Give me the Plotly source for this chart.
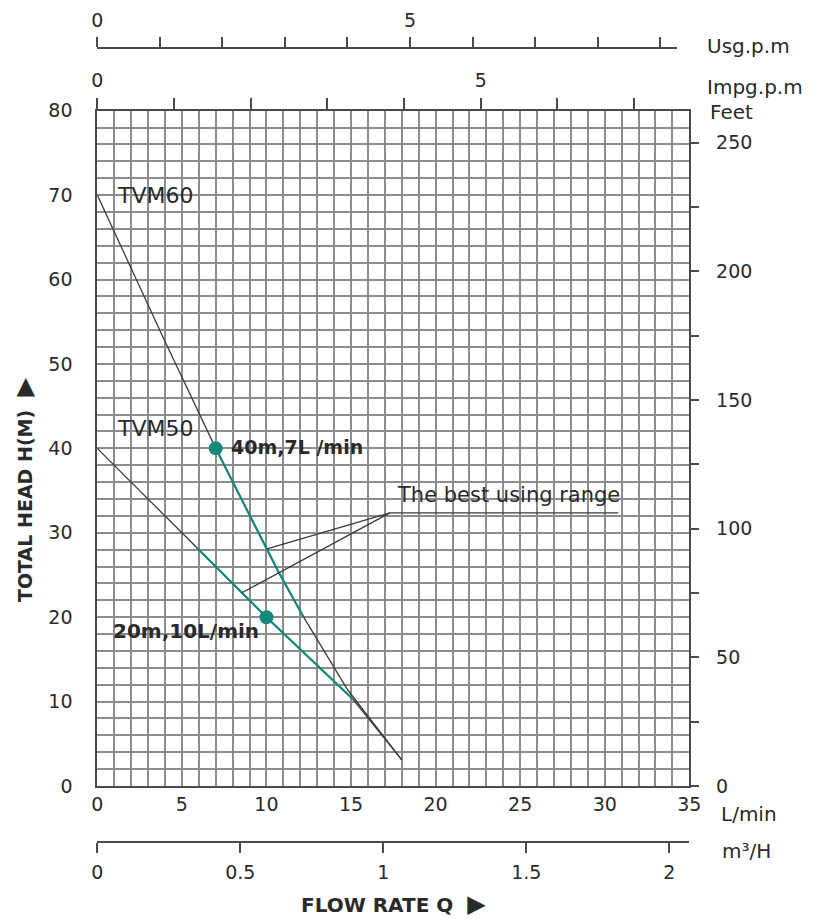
import plotly.graph_objects as go

# ---------------- data ----------------
flow_ticks = [0, 5, 10, 15, 20, 25, 30, 35]          # L/min
head_ticks = [0, 10, 20, 30, 40, 50, 60, 70, 80]     # m
feet_ticks = [0, 25, 50, 75, 100, 125, 150, 175, 200, 225, 250]
feet_labels = ["0", "", "50", "", "100", "", "150", "", "200", "", "250"]
m3h_ticks = [0, 0.5, 1, 1.5, 2]
m3h_labels = ["0", "0.5", "1", "1.5", "2"]
usgpm_ticks = [0, 1, 2, 3, 4, 5, 6, 7, 8, 9]
usgpm_labels = ["0", "", "", "", "", "5", "", "", "", ""]
impgpm_ticks = [0, 1, 2, 3, 4, 5, 6, 7]
impgpm_labels = ["0", "", "", "", "", "5", "", ""]

tvm60_flow = [0, 3.9, 7.0, 10.7, 12.2, 14.8, 18.0]
tvm60_head = [70, 53.1, 40, 25.4, 20.0, 11.4, 3.1]
tvm60_best = slice(2, 5)          # 40 m ... 20 m

tvm50_flow = [0, 5.9, 10.0, 15.1, 18.0]
tvm50_head = [40, 28.2, 20, 10.3, 3.1]
tvm50_best = slice(1, 4)

point_flow = [7, 10]
point_head = [40, 20]
point_text = ["40m,7L /min", "20m,10L/min"]

best_anchor = (17.3, 32.35)
best_end_flow = 30.8
best_targets_flow = [10.03, 8.55]
best_targets_head = [28.1, 22.9]

# ---------------- geometry helpers ----------------
# page body has an 8px margin, so the figure is drawn 8px in from the window corner
OFF = 8
W, H = 818 - OFF, 919 - OFF
def px(x):
    return (x - OFF) / W
def py(y):
    return 1 - (y - OFF) / H

X0, X1 = 97.3, 689.3
Y0, Y1 = 110.7, 786.0
xdom = [px(X0), px(X1)]
ydom = [py(Y1), py(Y0)]

FONT = "DejaVu Sans"
TXT = "#2a2a2a"
GRID = "#8c8c8c"
BORDER = "#4a4a4a"
TEAL = "#14897a"
CURVE = "#3c3c3c"

fig = go.Figure()

# full curves
fig.add_trace(go.Scatter(x=tvm60_flow, y=tvm60_head, mode="lines",
                         line=dict(color=CURVE, width=1.3), hoverinfo="skip"))
fig.add_trace(go.Scatter(x=tvm50_flow, y=tvm50_head, mode="lines",
                         line=dict(color=CURVE, width=1.3), hoverinfo="skip"))
# best using range (teal)
fig.add_trace(go.Scatter(x=tvm60_flow[tvm60_best], y=tvm60_head[tvm60_best], mode="lines",
                         line=dict(color=TEAL, width=2.2), hoverinfo="skip"))
fig.add_trace(go.Scatter(x=tvm50_flow[tvm50_best], y=tvm50_head[tvm50_best], mode="lines",
                         line=dict(color=TEAL, width=2.2), hoverinfo="skip"))
# leader lines + underline of the "best using range" label
lx, ly = [], []
for fx, fy in zip(best_targets_flow, best_targets_head):
    lx += [best_anchor[0], fx, None]
    ly += [best_anchor[1], fy, None]
lx += [best_anchor[0], best_end_flow]
ly += [best_anchor[1], best_anchor[1]]
fig.add_trace(go.Scatter(x=lx, y=ly, mode="lines",
                         line=dict(color="#3a3a3a", width=1.3), hoverinfo="skip"))
# operating points
fig.add_trace(go.Scatter(x=point_flow, y=point_head, mode="markers",
                         marker=dict(color=TEAL, size=14), hoverinfo="skip"))

# dummy traces so that the secondary axes get drawn
inv = dict(mode="markers", marker=dict(opacity=0), hoverinfo="skip", showlegend=False)
fig.add_trace(go.Scatter(x=[0], y=[0], xaxis="x", yaxis="y2", **inv))
fig.add_trace(go.Scatter(x=[0], y=[0], xaxis="x2", yaxis="y", **inv))
fig.add_trace(go.Scatter(x=[0], y=[0], xaxis="x4", yaxis="y", **inv))
fig.add_trace(go.Scatter(x=[0], y=[0], xaxis="x3", yaxis="y3", **inv))

tickfont = dict(family=FONT, size=19, color=TXT)

fig.update_layout(
    width=W, height=H, autosize=False,
    margin=dict(l=0, r=0, t=0, b=0, autoexpand=False),
    paper_bgcolor="white", plot_bgcolor="white",
    showlegend=False,
    xaxis=dict(domain=xdom, anchor="y", range=[0, 35], tickvals=flow_ticks,
               ticks="", ticklabelstandoff=0, tickfont=tickfont, automargin=False,
               showgrid=True, gridcolor=GRID, gridwidth=1.5,
               minor=dict(dtick=1, showgrid=True, gridcolor=GRID, gridwidth=1.5),
               zeroline=False, showline=True, mirror=True,
               linecolor=BORDER, linewidth=2, fixedrange=True),
    yaxis=dict(domain=ydom, anchor="x", range=[0, 80], tickvals=head_ticks,
               ticks="", ticklabelstandoff=19, tickfont=tickfont, automargin=False,
               showgrid=True, gridcolor=GRID, gridwidth=1.5,
               minor=dict(dtick=2, showgrid=True, gridcolor=GRID, gridwidth=1.5),
               zeroline=False, showline=True, mirror=True,
               linecolor=BORDER, linewidth=2, fixedrange=True),
    yaxis2=dict(overlaying="y", anchor="x", side="right", range=[0, 80 * 3.28084],
                tickvals=feet_ticks, ticktext=feet_labels, ticks="outside",
                ticklen=9, tickwidth=1.5, tickcolor=BORDER, ticklabelstandoff=13,
                tickfont=tickfont, showgrid=False, zeroline=False, showline=False,
                automargin=False, fixedrange=True),
    xaxis2=dict(overlaying="x", anchor="free", position=py(842), side="bottom",
                range=[0, 2.07], tickvals=m3h_ticks, ticktext=m3h_labels,
                ticks="outside", ticklen=10, tickwidth=1.5, tickcolor=BORDER,
                ticklabelstandoff=3, tickfont=tickfont, showgrid=False,
                zeroline=False, showline=True, linecolor=BORDER, linewidth=1.5,
                automargin=False, fixedrange=True),
    xaxis4=dict(overlaying="x", anchor="y", side="top", range=[0, 7.72],
                tickvals=impgpm_ticks, ticktext=impgpm_labels, ticks="outside",
                ticklen=12, tickwidth=1.5, tickcolor=BORDER, ticklabelstandoff=3,
                tickfont=tickfont, showgrid=False, zeroline=False, showline=False,
                automargin=False, fixedrange=True),
    xaxis3=dict(domain=[px(X0), px(677)], anchor="free", position=py(48), side="top",
                range=[0, 9.27], tickvals=usgpm_ticks, ticktext=usgpm_labels,
                ticks="outside", ticklen=10, tickwidth=1.5, tickcolor=BORDER,
                ticklabelstandoff=3, tickfont=tickfont, showgrid=False,
                zeroline=False, showline=True, linecolor=BORDER, linewidth=1.5,
                automargin=False, fixedrange=True),
    yaxis3=dict(domain=[py(60), py(40)], anchor="x3", range=[0, 1], visible=False,
                automargin=False, fixedrange=True),
)

# ---------------- text ----------------
def ann(text, x, y, xref="paper", yref="paper", size=20, xanchor="left",
        yanchor="middle", angle=0, bold=False):
    fig.add_annotation(text=("<b>%s</b>" % text) if bold else text, x=x, y=y,
                       xref=xref, yref=yref, showarrow=False, xanchor=xanchor,
                       yanchor=yanchor, textangle=angle,
                       font=dict(family=FONT, size=size, color=TXT))

# unit labels
ann("Usg.p.m", px(705), py(46))
ann("Impg.p.m", px(705), py(87))
ann("Feet", px(708), py(112))
ann("L/min", px(719), py(814))
ann("m³/H", px(720), py(851))

# curve labels (data coordinates)
ann("TVM60", 1.05, 70.0, "x", "y", size=22)
ann("TVM50", 1.05, 42.3, "x", "y", size=22)
ann(point_text[0], 7.8, 40.2, "x", "y", size=19, bold=True)
ann(point_text[1], 0.8, 18.4, "x", "y", size=20, bold=True)
ann("The best using range", 17.6, 34.5, "x", "y", size=21)

# axis titles
ann("TOTAL HEAD H(M) &nbsp;<span style='font-size:24px'>▶</span>", px(24), py(490),
    xanchor="center", angle=-90, size=19, bold=True)
ann("FLOW RATE Q &nbsp;<span style='font-size:24px'>▶</span>", px(393), py(904),
    xanchor="center", size=20, bold=True)

fig.write_html("out.html")
